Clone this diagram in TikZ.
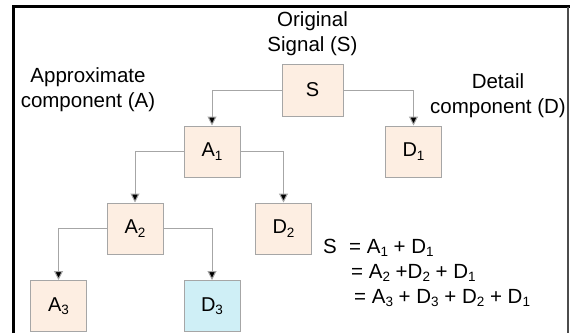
\documentclass[tikz,border=0pt]{standalone}
\usepackage{fontspec}
\setmainfont{Liberation Sans}
\usetikzlibrary{arrows.meta}
\definecolor{peach}{HTML}{FDEEE2}
\definecolor{lblue}{HTML}{CFEFF6}
\definecolor{edgegray}{HTML}{A6A6A6}
\tikzset{
  blk/.style={draw=edgegray, line width=1pt, fill=peach, minimum width=56pt, minimum height=51pt, inner sep=0pt, font=\fontsize{20}{22}\selectfont},
  conn/.style={draw=edgegray, line width=1pt, -{Triangle[fill=black,length=9pt,width=9pt]}},
  lbl/.style={align=center, font=\fontsize{20.5}{25}\selectfont, inner sep=0pt},
  eq/.style={anchor=base west, font=\fontsize{20.5}{22}\selectfont, inner sep=0pt}
}
\newcommand{\sbs}[1]{\raisebox{-3.5pt}{\fontsize{13.5}{14}\selectfont #1}}
\begin{document}
\begin{tikzpicture}[x=1pt,y=-1pt]
\useasboundingbox (0,0) rectangle (570,333);
% frame
\draw[black, line width=3pt] (13.5,333) -- (13.5,6.5) -- (570,6.5);
\draw[black!70, line width=1.5pt] (568,6.5) -- (568,333);
% boxes
\node[blk, minimum width=61pt, minimum height=52pt] (S) at (312.5,90) {S};
\node[blk] (A1) at (212,151.5) {A\sbs{1}};
\node[blk] (D1) at (413.5,151.5) {D\sbs{1}};
\node[blk] (A2) at (135,228.5) {A\sbs{2}};
\node[blk] (D2) at (283.5,228.5) {D\sbs{2}};
\node[blk] (A3) at (58.5,306) {A\sbs{3}};
\node[blk, fill=lblue] (D3) at (212,306) {D\sbs{3}};
% connectors
\draw[conn] (S.west) -| (A1.north);
\draw[conn] (S.east) -| (D1.north);
\draw[conn] (A1.west) -| (A2.north);
\draw[conn] (A1.east) -| (D2.north);
\draw[conn] (A2.west) -| (A3.north);
\draw[conn] (A2.east) -| (D3.north);
% labels
\node[lbl] (orig) at (312.5,34) {Original\\Signal (S)};
\node[lbl] (appr) at (88,90) {Approximate\\component (A)};
\node[lbl] (det) at (498,96) {Detail\\component (D)};
% equations
\node[eq] (e1) at (323,253) {\makebox[26pt][l]{S}= A\sbs{1} + D\sbs{1}};
\node[eq] (e2) at (351,278) {= A\sbs{2} +D\sbs{2} + D\sbs{1}};
\node[eq] (e3) at (354,303) {= A\sbs{3} + D\sbs{3} + D\sbs{2} + D\sbs{1}};
\end{tikzpicture}
\end{document}
